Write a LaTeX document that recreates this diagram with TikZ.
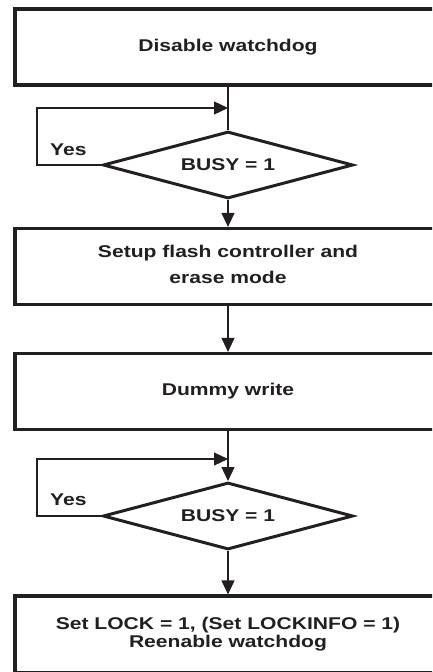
\documentclass[tikz,border=0pt]{standalone}
\usepackage{fontspec}
\setmainfont{Liberation Sans}
\usetikzlibrary{shapes.geometric,arrows.meta}
\definecolor{ink}{HTML}{231F20}
\newcommand{\wx}[1]{\scalebox{1.24}[1]{#1}}
\begin{document}
\begin{tikzpicture}[x=1pt,y=-1pt,
  txt/.style={font=\bfseries\fontsize{17}{20}\selectfont, text=ink},
  box/.style={txt, draw=ink, line width=3.2pt, minimum width=426pt, minimum height=76pt, inner sep=0pt},
  dec/.style={txt, diamond, shape aspect=3, draw=ink, line width=3pt, minimum width=250pt, minimum height=67pt, inner sep=0pt},
  conn/.style={draw=ink, line width=1.2pt},
  arr/.style={conn, -{Triangle[length=14pt,width=13pt]}},
  lbl/.style={txt, anchor=west, inner sep=0pt}]
\clip (0,0) rectangle (432,672);
\fill[white] (0,0) rectangle (432,672);

\node[box] (b1) at (228,47) {\wx{Disable watchdog}};
\node[dec] (d1) at (228,165) {\wx{BUSY = 1}};
\node[box] (b2) at (228,266.5) {\wx{\begin{tabular}{@{}c@{}}Setup flash controller and\\[6pt]erase mode\end{tabular}}};
\node[box] (b3) at (228,391.5) {\wx{Dummy write}};
\node[dec] (d2) at (228,516) {\wx{BUSY = 1}};
\node[box, minimum height=77pt] (b4) at (228,634.5) {\wx{\begin{tabular}{@{}c@{}}Set LOCK = 1, (Set LOCKINFO = 1)\\[-2pt]Reenable watchdog\end{tabular}}};

\node[lbl] (y1) at (50,150) {\wx{Yes}};
\node[lbl] (y2) at (50,500) {\wx{Yes}};

\coordinate (j1) at (228,108);
\coordinate (j2) at (228,459);
\coordinate (c1) at (37,165);
\coordinate (c2) at (37,516);

\draw[conn] (b1.south) -- (d1.north);
\draw[arr] (d1.west) -- (c1) |- (j1);
\draw[arr] (d1.south) -- (b2.north);
\draw[arr] (b2.south) -- (b3.north);
\draw[arr] (b3.south) -- (d2.north);
\draw[arr] (d2.west) -- (c2) |- (j2);
\draw[arr] (d2.south) -- (b4.north);
\end{tikzpicture}
\end{document}
